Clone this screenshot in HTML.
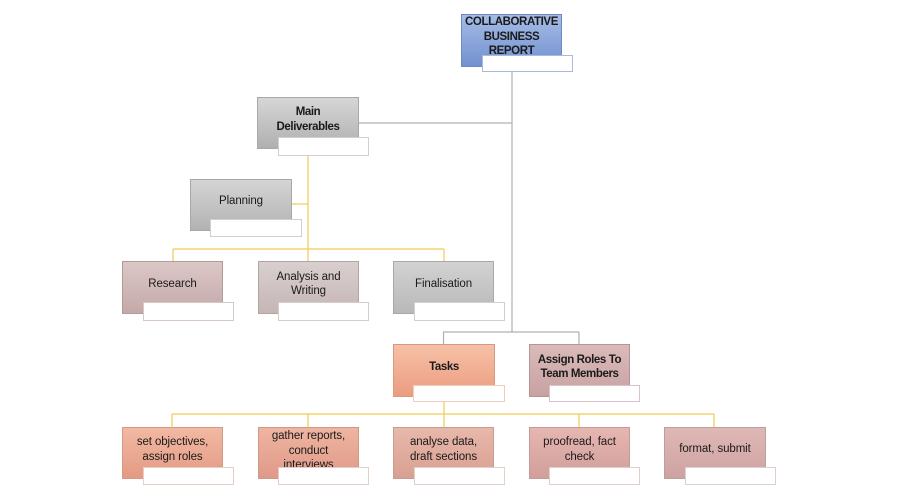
<!DOCTYPE html>
<html>
<head>
<meta charset="utf-8">
<style>
  html, body { margin: 0; padding: 0; background: #ffffff; }
  #c { position: relative; width: 900px; height: 500px; overflow: hidden; background: #fff;
       font-family: "Liberation Sans", sans-serif; }
  svg { position: absolute; left: 0; top: 0; }
  .b { position: absolute; box-sizing: border-box; display: flex; align-items: center; justify-content: center;
       text-align: center; color: #1a1a1a; font-size: 11.5px; line-height: 14.5px; padding-bottom: 7px;
       letter-spacing: -0.1px; border: 1px solid #999; overflow: hidden; }
  .bold { font-weight: bold; font-size: 11.5px; letter-spacing: -0.4px; }
  .l { position: absolute; box-sizing: border-box; background: #fff; border: 1px solid #d0d0d0; }
  .blue { background: linear-gradient(#a5bce6, #7391d0); border-color: #6f88bd; }
  .gray { background: linear-gradient(#d6d6d6, #b0b0b0); border-color: #a8a8a8; }
  .gray2 { background: linear-gradient(#d4d4d4, #b3b3b3); border-color: #a8a8a8; }
  .mauve { background: linear-gradient(#dcc7c7, #c4a9a9); border-color: #b09a9a; }
  .mauve2 { background: linear-gradient(#d9cfcf, #c6b6b6); border-color: #b0a5a5; }
  .gray3 { background: linear-gradient(#d2d2d2, #b9b9b9); border-color: #a8a8a8; }
  .salmon { background: linear-gradient(#f6c1a7, #ec9c80); border-color: #d69a80; }
  .pinkb { background: linear-gradient(#dcbaba, #c7a2a2); border-color: #b59494; }
  .s1 { background: linear-gradient(#f2b9a3, #e49a84); border-color: #cf9a86; }
  .s2 { background: linear-gradient(#efb5a0, #e0998a); border-color: #cc9a8a; }
  .s3 { background: linear-gradient(#e8b8ab, #d8a092); border-color: #c49c92; }
  .s4 { background: linear-gradient(#e6b6b1, #d29f9b); border-color: #c09c98; }
  .s5 { background: linear-gradient(#dfb8b6, #cda3a1); border-color: #bc9e9c; }
</style>
</head>
<body>
<div id="c">
<svg width="900" height="500" viewBox="0 0 900 500">
  <g stroke="#b0b0b0" stroke-width="1.2" fill="none">
    <line x1="512" y1="72" x2="512" y2="332"/>
    <line x1="359" y1="123" x2="512" y2="123"/>
    <line x1="443" y1="332" x2="579" y2="332"/>
    <line x1="443.5" y1="332" x2="443.5" y2="344"/>
    <line x1="579" y1="332" x2="579" y2="344"/>
  </g>
  <g stroke="#f0cc50" stroke-width="1.2" fill="none">
    <line x1="308" y1="156" x2="308" y2="261"/>
    <line x1="292" y1="204" x2="308" y2="204"/>
    <line x1="173" y1="249" x2="444" y2="249"/>
    <line x1="173" y1="249" x2="173" y2="261"/>
    <line x1="444" y1="249" x2="444" y2="261"/>
    <line x1="444" y1="402" x2="444" y2="427"/>
    <line x1="172" y1="414" x2="714" y2="414"/>
    <line x1="172" y1="414" x2="172" y2="427"/>
    <line x1="308" y1="414" x2="308" y2="427"/>
    <line x1="579" y1="414" x2="579" y2="427"/>
    <line x1="714" y1="414" x2="714" y2="427"/>
  </g>
</svg>

<div class="b blue bold" style="left:461px;top:14px;width:101px;height:53px;">COLLABORATIVE<br>BUSINESS<br>REPORT</div>
<div class="l" style="left:482px;top:55px;width:91px;height:17px;border-color:#a9bbdc;"></div>

<div class="b gray bold" style="left:257px;top:97px;width:102px;height:52px;">Main<br>Deliverables</div>
<div class="l" style="left:278px;top:137px;width:91px;height:19px;"></div>

<div class="b gray2" style="left:190px;top:179px;width:102px;height:52px;">Planning</div>
<div class="l" style="left:210px;top:219px;width:92px;height:18px;"></div>

<div class="b mauve" style="left:122px;top:261px;width:101px;height:53px;">Research</div>
<div class="l" style="left:143px;top:302px;width:91px;height:19px;border-color:#d6c8c8;"></div>

<div class="b mauve2" style="left:258px;top:261px;width:101px;height:53px;">Analysis and<br>Writing</div>
<div class="l" style="left:278px;top:302px;width:91px;height:19px;border-color:#d6cccc;"></div>

<div class="b gray3" style="left:393px;top:261px;width:101px;height:53px;">Finalisation</div>
<div class="l" style="left:414px;top:302px;width:91px;height:19px;"></div>

<div class="b salmon bold" style="left:393px;top:344px;width:102px;height:53px;">Tasks</div>
<div class="l" style="left:413px;top:385px;width:92px;height:17px;border-color:#efcdb8;"></div>

<div class="b pinkb bold" style="left:529px;top:344px;width:101px;height:53px;">Assign Roles To<br>Team Members</div>
<div class="l" style="left:549px;top:385px;width:91px;height:17px;border-color:#d8c4c4;"></div>

<div class="b s1" style="left:122px;top:427px;width:101px;height:52px;">set objectives,<br>assign roles</div>
<div class="l" style="left:143px;top:467px;width:91px;height:18px;border-color:#e6cfc6;"></div>

<div class="b s2" style="left:258px;top:427px;width:101px;height:52px;padding-bottom:0;align-items:flex-start;padding-top:1px;">gather reports,<br>conduct<br>interviews</div>
<div class="l" style="left:278px;top:467px;width:91px;height:18px;border-color:#e4cfc8;"></div>

<div class="b s3" style="left:393px;top:427px;width:101px;height:52px;">analyse data,<br>draft sections</div>
<div class="l" style="left:414px;top:467px;width:91px;height:18px;border-color:#e2d0ca;"></div>

<div class="b s4" style="left:529px;top:427px;width:101px;height:52px;">proofread, fact<br>check</div>
<div class="l" style="left:549px;top:467px;width:91px;height:18px;border-color:#e0cfcd;"></div>

<div class="b s5" style="left:664px;top:427px;width:102px;height:52px;">format, submit</div>
<div class="l" style="left:685px;top:467px;width:91px;height:18px;border-color:#ddd0cf;"></div>
</div>
</body>
</html>
